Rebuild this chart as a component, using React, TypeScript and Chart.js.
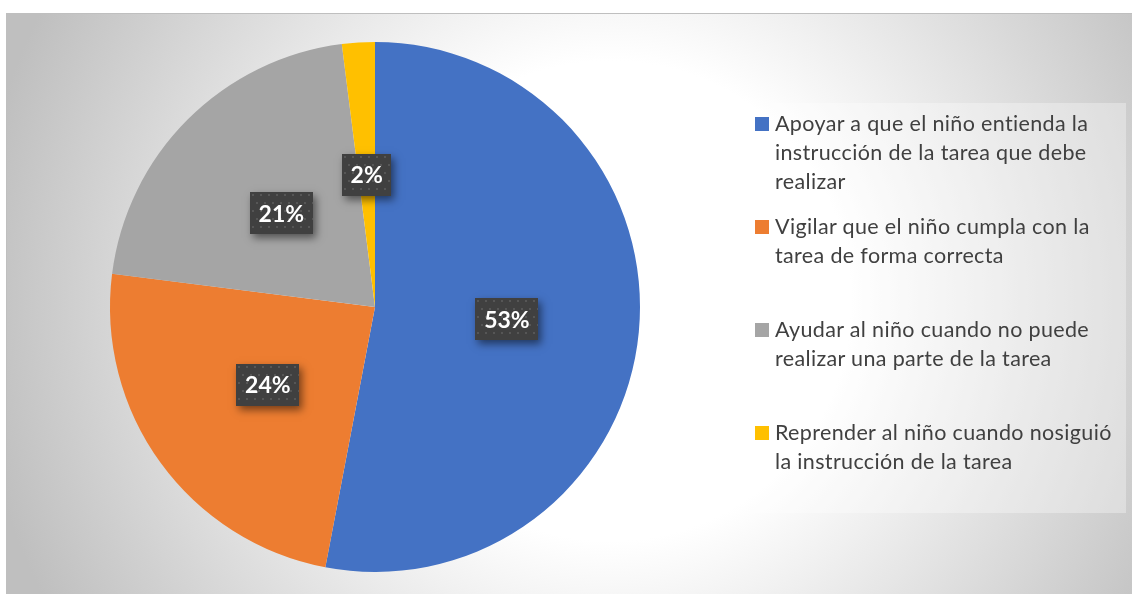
import React, { useEffect, useRef } from "react";
import { Chart, registerables } from "chart.js";

Chart.register(...registerables);

// ---- data ----
const categories: string[][] = [
  ["Apoyar a que el niño entienda la", "instrucción de la tarea que debe", "realizar"],
  ["Vigilar que el niño cumpla con la", "tarea de forma correcta"],
  ["Ayudar al niño cuando no puede", "realizar una parte de la tarea"],
  ["Reprender al niño cuando nosiguió", "la instrucción de la tarea"],
];
const values: number[] = [53, 24, 21, 2];
const colors: string[] = ["#4472C4", "#ED7D31", "#A5A5A5", "#FFC000"];

const labelPlugin = {
  id: "boxLabels",
  afterDatasetsDraw(chart: any) {
    const ctx = chart.ctx as CanvasRenderingContext2D;
    const meta = chart.getDatasetMeta(0);
    const data = chart.data.datasets[0].data as number[];
    const total = data.reduce((a, b) => a + b, 0);
    ctx.save();
    ctx.font = "bold 23px Lato";
    meta.data.forEach((arc: any, i: number) => {
      const pos = arc.tooltipPosition();
      const text = Math.round((data[i] / total) * 100) + "%";
      const tw = ctx.measureText(text).width;
      const w = Math.round(tw + 17);
      const h = 42;
      const x = Math.round(pos.x - w / 2);
      const y = Math.round(pos.y - h / 2);
      ctx.save();
      ctx.shadowColor = "rgba(0,0,0,0.5)";
      ctx.shadowBlur = 8;
      ctx.shadowOffsetX = 3;
      ctx.shadowOffsetY = 4;
      ctx.fillStyle = "#404040";
      ctx.fillRect(x, y, w, h);
      ctx.restore();
      ctx.save();
      ctx.beginPath();
      ctx.rect(x, y, w, h);
      ctx.clip();
      ctx.fillStyle = "#565656";
      let row = 0;
      for (let yy = y + 2; yy < y + h; yy += 8, row++) {
        for (let xx = x + 2 + (row % 2) * 4; xx < x + w; xx += 8) {
          ctx.fillRect(xx, yy, 2, 2);
        }
      }
      ctx.restore();
      ctx.fillStyle = "#ffffff";
      ctx.textAlign = "center";
      ctx.textBaseline = "middle";
      ctx.fillText(text, pos.x, pos.y + 1);
    });
    ctx.restore();
  },
};

export default function App() {
  const ref = useRef<HTMLCanvasElement | null>(null);
  useEffect(() => {
    if (!ref.current) return;
    const chart = new Chart(ref.current, {
      type: "pie",
      data: {
        labels: categories.map((c) => c.join(" ")),
        datasets: [
          {
            data: values,
            backgroundColor: colors,
            borderWidth: 0,
          },
        ],
      },
      options: {
        animation: false,
        responsive: false,
        rotation: 0,
        layout: { padding: { left: 104, top: 29, right: 492, bottom: 22 } },
        plugins: {
          legend: { display: false },
          tooltip: { enabled: false },
          title: { display: false },
        },
      },
      plugins: [labelPlugin],
    });
    return () => chart.destroy();
  }, []);

  return (
    <div
      style={{
        position: "absolute",
        left: 0,
        top: 0,
        width: 1132,
        height: 594,
        overflow: "hidden",
        background: "#ffffff",
      }}
    >
      <div
        style={{
          position: "absolute",
          left: 6,
          top: 13,
          width: 1140,
          height: 600,
          border: "1.5px solid #bfbfbf",
          boxSizing: "border-box",
          background:
            "radial-gradient(circle 640px at 604px 287px, #ffffff 0px, #ffffff 240px, #bfbfbf 640px)",
        }}
      />
      <canvas
        ref={ref}
        width={1126}
        height={581}
        style={{ position: "absolute", left: 6, top: 13, width: 1126, height: 581 }}
      />
      <div
        style={{
          position: "absolute",
          left: 743,
          top: 103,
          width: 383,
          height: 410,
          background: "rgba(255,255,255,0.32)",
          fontFamily: "Lato, sans-serif",
          fontSize: 21.5,
          letterSpacing: "0.35px",
          color: "#404040",
        }}
      >
        {categories.map((lines, i) => (
          <div
            key={i}
            style={{ position: "absolute", left: 12, top: 5.5 + i * 103, lineHeight: "29px" }}
          >
            <span
              style={{
                position: "absolute",
                left: 0,
                top: 8,
                width: 14,
                height: 14,
                background: colors[i],
              }}
            />
            <div style={{ marginLeft: 20, whiteSpace: "nowrap" }}>
              {lines.map((l, j) => (
                <div key={j}>{l}</div>
              ))}
            </div>
          </div>
        ))}
      </div>
    </div>
  );
}
